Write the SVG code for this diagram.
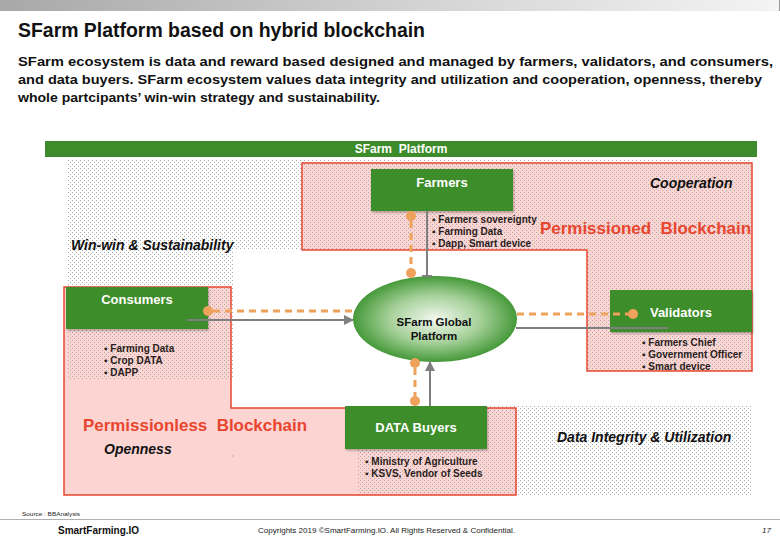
<svg xmlns="http://www.w3.org/2000/svg" width="780" height="540" viewBox="0 0 780 540">
<defs>
  <linearGradient id="topband" x1="0" y1="0" x2="1" y2="0">
    <stop offset="0" stop-color="#a8a8a8"/>
    <stop offset="0.5" stop-color="#d0d0d0"/>
    <stop offset="1" stop-color="#f4f4f4"/>
  </linearGradient>
  <radialGradient id="ell" cx="0.5" cy="0.5" r="0.5">
    <stop offset="0" stop-color="#f2f8ef"/>
    <stop offset="0.55" stop-color="#a6d19a"/>
    <stop offset="1" stop-color="#46993a"/>
  </radialGradient>
  <pattern id="dots" width="4" height="4" patternUnits="userSpaceOnUse">
    <rect x="0" y="0" width="1" height="1" fill="#ababab"/>
    <rect x="2" y="2" width="1" height="1" fill="#ababab"/>
  </pattern>
  <marker id="arr" viewBox="0 0 10 10" refX="9" refY="5" markerWidth="5" markerHeight="5" orient="auto">
    <path d="M0,0 L10,5 L0,10 z" fill="#7f7f7f"/>
  </marker>
  <filter id="sh" x="-10%" y="-10%" width="130%" height="140%">
    <feDropShadow dx="1" dy="1.5" stdDeviation="1" flood-color="#000" flood-opacity="0.3"/>
  </filter>
</defs>
<style>
  text { font-family: "Liberation Sans", Arial, sans-serif; }
  .title { font-size: 20px; font-weight: bold; fill: #111; }
  .sub { font-size: 13px; font-weight: bold; fill: #111; }
  .box { fill: #3e8d2a; filter: url(#sh); }
  .boxt { font-size: 13px; font-weight: bold; fill: #fff; text-anchor: middle; }
  .bul { font-size: 10px; font-weight: bold; fill: #2a1c1c; }
  .red { font-size: 17px; font-weight: bold; fill: #e8452f; }
  .ital { font-size: 14px; font-weight: bold; font-style: italic; fill: #111; }
  .pink { fill: #fcd5d2; stroke: none; }
  .redline { fill: none; stroke: #e8452f; stroke-width: 1.5; }
  .dot { fill: url(#dots); }
  .gray { stroke: #7f7f7f; stroke-width: 2; fill: none; }
  .org { stroke: #eea25c; stroke-width: 3; stroke-dasharray: 7 5; fill: none; }
  .oc { fill: #eea25c; }
</style>
<rect x="0" y="0" width="780" height="540" fill="#fff"/>
<rect x="0" y="0" width="780" height="11" fill="url(#topband)"/>
<line x1="779.5" y1="0" x2="779.5" y2="11" stroke="#999" stroke-width="1"/>

<text class="title" x="18" y="37" textLength="407" lengthAdjust="spacingAndGlyphs">SFarm Platform based on hybrid blockchain</text>
<text class="sub" x="18" y="66" textLength="755" lengthAdjust="spacingAndGlyphs">SFarm ecosystem is data and reward based designed and managed by farmers, validators, and consumers,</text>
<text class="sub" x="18" y="84" textLength="744" lengthAdjust="spacingAndGlyphs">and data buyers. SFarm ecosystem values data integrity and utilization and cooperation, openness, thereby</text>
<text class="sub" x="18" y="102" textLength="362" lengthAdjust="spacingAndGlyphs">whole partcipants’ win-win strategy and sustainability.</text>

<g id="platform-bar">
  <rect x="45" y="141" width="712" height="16" fill="#3d8b2b"/>
  <text x="401" y="153" font-size="12" font-weight="bold" fill="#fff" text-anchor="middle">SFarm&#160; Platform</text>
</g>

<g id="regions">
  <polygon class="pink" points="302,163 752,163 752,371 587,371 587,250 302,250"/>
  <polygon class="pink" points="64,287 231,287 231,408 516,408 516,495 64,495"/>
  <rect class="dot" x="67" y="160" width="685" height="90"/>
  <rect class="dot" x="67" y="250" width="166" height="130"/>
  <rect class="dot" x="587" y="250" width="165" height="121"/>
  <rect class="dot" x="358" y="405" width="394" height="90"/>
  <polygon class="redline" points="302,163 752,163 752,371 587,371 587,250 302,250"/>
  <polygon class="redline" points="64,287 231,287 231,408 516,408 516,495 64,495"/>
  <text class="red" x="540" y="234" textLength="211" lengthAdjust="spacingAndGlyphs">Permissioned&#160; Blockchain</text>
  <text class="red" x="83" y="431" textLength="224" lengthAdjust="spacingAndGlyphs">Permissionless&#160; Blockchain</text>
  <text class="ital" x="650" y="188">Cooperation</text>
  <text class="ital" x="71" y="250">Win-win &amp; Sustainability</text>
  <text class="ital" x="104" y="454">Openness</text>
  <text class="ital" x="557" y="442">Data Integrity &amp; Utilization</text>
  <text x="232" y="456" font-size="6" fill="#333">,</text>
</g>

<g id="farmers">
  <rect class="box" x="371" y="169" width="142" height="42"/>
  <text class="boxt" x="442" y="187">Farmers</text>
  <text class="bul" x="432" y="223">▪ Farmers sovereignty</text>
  <text class="bul" x="432" y="235">▪ Farming Data</text>
  <text class="bul" x="432" y="247">▪ Dapp, Smart device</text>
</g>
<g id="consumers">
  <rect class="box" x="66" y="287" width="142" height="42"/>
  <text class="boxt" x="137" y="304">Consumers</text>
  <text class="bul" x="104" y="352">▪ Farming Data</text>
  <text class="bul" x="104" y="364">▪ Crop DATA</text>
  <text class="bul" x="104" y="376">▪ DAPP</text>
</g>
<g id="validators">
  <rect class="box" x="610" y="290" width="142" height="42"/>
  <text class="boxt" x="681" y="317">Validators</text>
  <text class="bul" x="642" y="346">▪ Farmers Chief</text>
  <text class="bul" x="642" y="358">▪ Government Officer</text>
  <text class="bul" x="642" y="370">▪ Smart device</text>
</g>
<g id="data-buyers">
  <rect class="box" x="345" y="406" width="142" height="43"/>
  <text class="boxt" x="416" y="432">DATA Buyers</text>
  <text class="bul" x="365" y="465">▪ Ministry of Agriculture</text>
  <text class="bul" x="365" y="477">▪ KSVS, Vendor of Seeds</text>
</g>
<g id="global-platform">
  <ellipse cx="435" cy="319" rx="82" ry="43" fill="url(#ell)"/>
  <text x="434" y="326" font-size="11.5" font-weight="bold" fill="#111" text-anchor="middle">SFarm Global</text>
  <text x="434" y="340" font-size="11.5" font-weight="bold" fill="#111" text-anchor="middle">Platform</text>
</g>

<g id="connectors">
  <line class="gray" x1="427" y1="211" x2="427" y2="276"/>
  <line class="gray" x1="422" y1="276" x2="432" y2="276"/>
  <line class="gray" x1="187" y1="320" x2="353" y2="320" marker-end="url(#arr)"/>
  <line class="gray" x1="516" y1="328" x2="668" y2="328"/>
  <line class="gray" x1="430" y1="406" x2="430" y2="362" marker-end="url(#arr)"/>

  <line class="org" x1="411" y1="221" x2="411" y2="268"/>
  <circle class="oc" cx="411" cy="216" r="5"/>
  <circle class="oc" cx="411" cy="273" r="5"/>
  <line class="org" x1="213" y1="311" x2="355" y2="311"/>
  <circle class="oc" cx="208" cy="311" r="5"/>
  <line class="org" x1="517" y1="314" x2="628" y2="314"/>
  <circle class="oc" cx="633" cy="314" r="5"/>
  <line class="org" x1="415" y1="368" x2="415" y2="396"/>
  <circle class="oc" cx="415" cy="363" r="5"/>
  <circle class="oc" cx="415" cy="401" r="5"/>
</g>

<g id="footer">
  <text x="22" y="516" font-size="6" fill="#222" textLength="58" lengthAdjust="spacingAndGlyphs">Source : BBAnalysis</text>
  <line x1="0" y1="519.5" x2="780" y2="519.5" stroke="#b0b0b0" stroke-width="1"/>
  <text x="58" y="534" font-size="10" font-weight="bold" fill="#111">SmartFarming.IO</text>
  <text x="258" y="533" font-size="8" fill="#222" textLength="257" lengthAdjust="spacingAndGlyphs">Copyrights 2019 ©SmartFarming.IO. All Rights Reserved &amp; Confidential.</text>
  <text x="762" y="533" font-size="8" font-style="italic" fill="#222">17</text>
</g>
</svg>
